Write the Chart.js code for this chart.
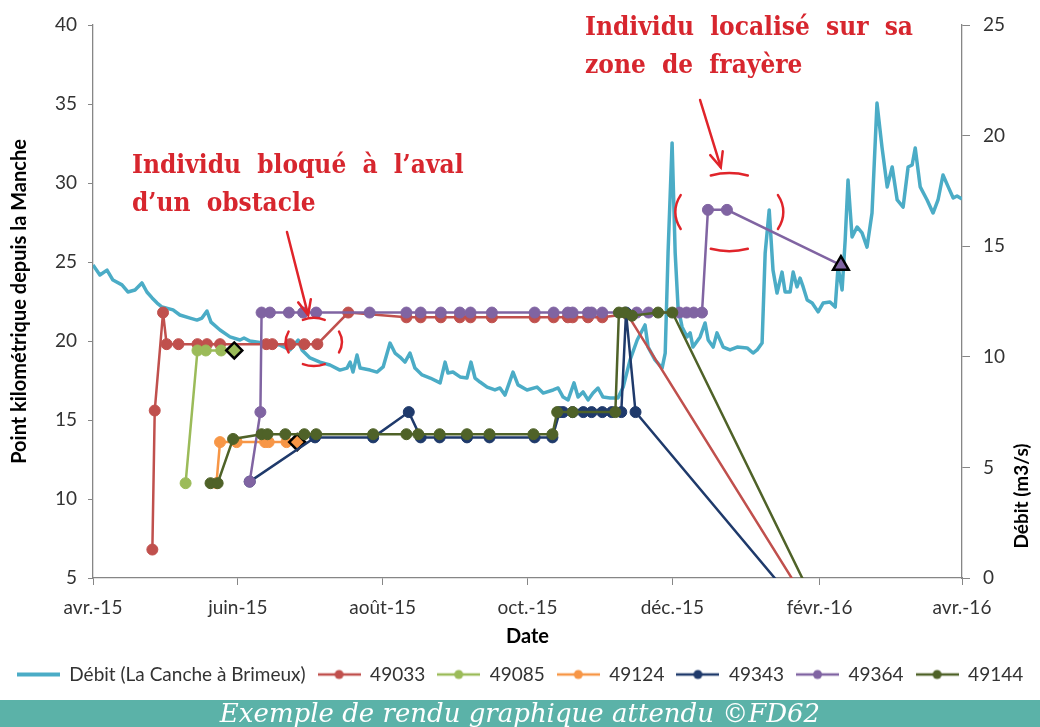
<!DOCTYPE html>
<html lang="fr">
<head>
<meta charset="utf-8">
<title>Suivi des individus - La Canche</title>
<script src="https://cdn.jsdelivr.net/npm/chart.js@4.4.1/dist/chart.umd.min.js"></script>
<style>
  html, body { margin: 0; padding: 0; background: #fff; }
  #page { position: relative; width: 1040px; height: 727px; overflow: hidden; }
  #zone { position: absolute; left: 0; top: 0; width: 1040px; height: 700px; }
  .note {
    position: absolute; color: #d7262e;
    font-family: 'DejaVu Serif Condensed', 'DejaVu Serif', serif; font-stretch: condensed;
    font-weight: bold; font-size: 26px; line-height: 38px; word-spacing: 8px; white-space: nowrap;
  }
  #bandeau {
    position: absolute; left: 0; top: 700px; width: 1040px; height: 27px;
    background: #5bb2a8; color: #fff; font-family: 'DejaVu Serif', serif; font-style: italic;
    font-size: 26px; line-height: 27px; text-align: center;
  }
</style>
</head>
<body>
<div id="page">
  <div id="zone"><canvas id="graphique" width="1040" height="700"></canvas></div>
  <div class="note" style="left:132px; top:145px;">Individu bloqué à l’aval<br>d’un obstacle</div>
  <div class="note" style="left:585px; top:7px;">Individu localisé sur sa<br>zone de frayère</div>
  <div id="bandeau">Exemple de rendu graphique attendu ©FD62</div>
</div>
<script>
// jours comptés depuis le 1er avril 2015
const tickJours = [0, 61, 122, 183, 244, 306, 366];
const tickLabels = ['avr.-15', 'juin-15', 'août-15', 'oct.-15', 'déc.-15', 'févr.-16', 'avr.-16'];

// Débit (La Canche à Brimeux), m3/s
const debitJours = [0, 2.9, 5.9, 8.4, 12.2, 14.7, 17.7, 20.6, 22.7, 24.9,
  27.0, 29.1, 33.7, 36.6, 40.9, 43.8, 45.9, 48.0, 49.7, 53.5,
  57.7, 61.9, 63.6, 66.1, 71.6, 78.8, 83.0, 86.4, 88.0, 91.4,
  95.6, 99.8, 104.0, 107.0, 108.3, 109.5, 111.2, 112.5, 116.7, 119.6,
  122.2, 125.1, 127.2, 129.3, 131.4, 133.5, 135.6, 138.6, 142.0, 146.2,
  148.3, 149.5, 151.6, 154.6, 157.5, 159.2, 160.9, 163.0, 166.0, 169.3,
  171.4, 173.5, 176.9, 179.0, 182.8, 187.0, 189.6, 193.8, 195.9, 198.0,
  200.1, 202.6, 204.3, 206.4, 208.5, 210.6, 212.7, 214.8, 217.8, 221.1,
  223.3, 226.2, 229.2, 232.5, 233.8, 236.7, 239.7, 241.0, 242.2, 243.9,
  245.2, 246.4, 248.1, 250.2, 251.5, 252.7, 255.7, 257.8, 259.1, 261.2,
  262.8, 265.4, 268.3, 271.3, 275.5, 278.0, 279.7, 281.8, 283.1, 284.8,
  286.4, 288.1, 290.2, 291.5, 293.6, 294.9, 296.5, 297.8, 299.1, 300.8,
  302.9, 305.4, 307.5, 310.4, 312.6, 313.8, 315.5, 316.8, 318.0, 319.7,
  321.8, 323.9, 326.0, 328.1, 330.2, 332.3, 334.5, 336.6, 338.7, 341.2,
  343.3, 345.0, 346.3, 348.4, 351.3, 353.8, 355.9, 358.0, 360.2, 362.3,
  363.9, 366.0];
const debitValeurs = [14.15, 13.70, 13.92, 13.47, 13.25, 12.93, 13.02, 13.34, 12.93, 12.66,
  12.43, 12.25, 12.12, 11.89, 11.75, 11.66, 11.75, 12.07, 11.57, 11.21,
  10.90, 10.76, 10.85, 10.71, 10.62, 10.53, 10.31, 10.76, 10.31, 9.95,
  9.76, 9.63, 9.40, 9.49, 9.76, 9.31, 10.08, 9.49, 9.40, 9.31,
  9.54, 10.62, 10.17, 9.99, 9.76, 10.17, 9.49, 9.18, 9.04, 8.82,
  9.76, 9.27, 9.31, 9.09, 9.04, 9.76, 9.04, 8.86, 8.63, 8.50,
  8.59, 8.27, 9.31, 8.73, 8.50, 8.63, 8.36, 8.50, 8.59, 8.18,
  8.05, 8.82, 8.18, 8.41, 8.05, 8.36, 8.59, 8.18, 8.14, 8.14,
  8.63, 9.86, 10.76, 11.44, 10.44, 9.86, 9.49, 10.17, 14.69, 19.67,
  14.69, 12.25, 11.35, 10.90, 11.08, 10.44, 10.90, 11.53, 10.76, 10.44,
  11.08, 10.44, 10.31, 10.44, 10.40, 10.17, 10.31, 10.62, 14.69, 16.64,
  13.92, 12.88, 13.83, 12.93, 12.93, 13.83, 13.16, 13.56, 13.16, 12.57,
  12.43, 12.03, 12.43, 12.48, 12.25, 14.06, 13.02, 15.28, 17.99, 15.42,
  15.87, 15.60, 14.96, 16.50, 21.47, 19.48, 17.68, 18.58, 17.09, 16.77,
  18.58, 18.67, 19.44, 17.68, 17.09, 16.50, 17.09, 18.22, 17.68, 17.18,
  17.27, 17.13];

// individus : jour de détection et point kilométrique
const jours49033 = [25, 26, 29.5, 31, 36, 44, 48, 53.5, 73, 75.5, 83, 89, 94.5, 107.5,
  132, 138, 146.5, 154.5, 159, 168, 186, 194, 200, 202, 208.5, 214.5, 225, 315];
const km49033 = [6.8, 15.6, 21.8, 19.8, 19.8, 19.8, 19.8, 19.8, 19.8, 19.8, 19.8, 19.8, 19.8, 21.8,
  21.5, 21.5, 21.5, 21.5, 21.5, 21.5, 21.5, 21.5, 21.5, 21.5, 21.5, 21.5, 21.7, 0];

const jours49085 = [39, 44, 47.5, 54, 59.5];
const km49085 = [11.0, 19.4, 19.4, 19.4, 19.4];

const jours49124 = [52, 53.5, 60.5, 72.5, 74, 81.5, 86];
const km49124 = [11.0, 13.6, 13.6, 13.6, 13.6, 13.6, 13.6];

const jours49343 = [66, 93.5, 118, 133, 138, 146, 157.5, 167, 186, 193.5,
  196.5, 198, 202, 206.5, 210, 214.5, 218.5, 222.5, 224.5, 228.5, 315];
const km49343 = [11.1, 13.9, 13.9, 15.5, 13.9, 13.9, 13.9, 13.9, 13.9, 13.9,
  15.5, 15.5, 15.5, 15.5, 15.5, 15.5, 15.5, 15.5, 21.8, 15.5, 0];

const jours49364 = [66, 70.5, 71, 74.5, 82.5, 88.5, 94, 116.5, 132, 138, 146.5, 154.5, 159, 168,
  186, 194, 200, 202, 208.5, 210, 214.5, 229, 234, 247, 250, 253, 256.5, 259, 267, 315];
const km49364 = [11.1, 15.5, 21.8, 21.8, 21.8, 21.8, 21.8, 21.8, 21.8, 21.8, 21.8, 21.8, 21.8, 21.8,
  21.8, 21.8, 21.8, 21.8, 21.8, 21.8, 21.8, 21.8, 21.8, 21.8, 21.8, 21.8, 21.8, 28.3, 28.3, 24.8];

const jours49144 = [49.5, 52.5, 59, 71, 73.5, 81, 89, 94, 118, 132, 137, 146, 157.5, 167,
  185.5, 193.5, 195.5, 202, 220, 221.5, 224, 227, 238, 244, 315];
const km49144 = [11.0, 11.0, 13.8, 14.1, 14.1, 14.1, 14.1, 14.1, 14.1, 14.1, 14.1, 14.1, 14.1, 14.1,
  14.1, 14.1, 15.5, 15.5, 15.5, 21.8, 21.8, 21.6, 21.8, 21.8, 0];

const couleurs = ['#4bacc6', '#c0504d', '#9bbb59', '#f79646', '#1f3a6b', '#8064a2', '#4f6228'];

function serie(label, jours, km, couleur, dernier) {
  const n = jours.length;
  const special = i => dernier && i === n - 1;
  return {
    label: label,
    yAxisID: 'y',
    data: jours.map((j, i) => ({ x: j, y: km[i] })),
    borderColor: couleur,
    backgroundColor: couleur,
    borderWidth: 2.5,
    pointStyle: jours.map((_, i) => special(i) ? dernier : 'circle'),
    pointRadius: jours.map((_, i) => special(i) ? (dernier === 'triangle' ? 9 : 8) : 5.5),
    pointBorderColor: jours.map((_, i) => special(i) ? '#000' : couleur),
    pointBorderWidth: jours.map((_, i) => special(i) ? 2.5 : 1),
    pointBackgroundColor: couleur,
    tension: 0
  };
}

const datasets = [
  {
    label: 'Débit (La Canche à Brimeux)',
    yAxisID: 'y1',
    data: debitJours.map((j, i) => ({ x: j, y: debitValeurs[i] })),
    borderColor: couleurs[0],
    backgroundColor: couleurs[0],
    borderWidth: 3.5,
    borderJoinStyle: 'round',
    pointRadius: 0,
    tension: 0
  },
  serie('49033', jours49033, km49033, couleurs[1]),
  serie('49085', jours49085, km49085, couleurs[2], 'rectRot'),
  serie('49124', jours49124, km49124, couleurs[3], 'rectRot'),
  serie('49343', jours49343, km49343, couleurs[4]),
  serie('49364', jours49364, km49364, couleurs[5], 'triangle'),
  serie('49144', jours49144, km49144, couleurs[6])
];
// la dernière série est dessinée au-dessus, comme dans Excel
datasets.forEach((d, i) => { d.order = datasets.length - i; });

// petits symboles de légende : trait + rond
function icone(couleur, avecPoint, epaisseur) {
  const c = document.createElement('canvas');
  c.width = 43; c.height = 12;
  const g = c.getContext('2d');
  g.strokeStyle = couleur;
  g.lineWidth = epaisseur;
  g.beginPath(); g.moveTo(0, 6); g.lineTo(43, 6); g.stroke();
  if (avecPoint) {
    g.fillStyle = couleur;
    g.beginPath(); g.arc(21.5, 6, 4.5, 0, Math.PI * 2); g.fill();
  }
  return c;
}
const icones = couleurs.map((c, i) => icone(c, i > 0, i > 0 ? 2.5 : 4));

const axe = '#868686';
const texte = '#333333';

// flèches, parenthèses et titre de l'axe de droite
const annotations = {
  id: 'annotations',
  afterDraw(chart) {
    const { ctx, scales: { x, y } } = chart;
    ctx.save();
    ctx.fillStyle = '#000';
    ctx.font = 'bold 19px Lato';
    ctx.textAlign = 'center';
    ctx.textBaseline = 'middle';
    ctx.translate(1022, 496);
    ctx.rotate(-Math.PI / 2);
    ctx.fillText('Débit (m3/s)', 0, 0);
    ctx.restore();

    ctx.save();
    ctx.strokeStyle = '#e0242a';
    ctx.lineWidth = 2.5;
    ctx.lineCap = 'round';
    const cercle = (j, km, rx, ry, dv, dh) => {
      const cx = x.getPixelForValue(j), cy = y.getPixelForValue(km);
      [[Math.PI, dv], [0, dv], [-Math.PI / 2, dh], [Math.PI / 2, dh]].forEach(([a, d]) => {
        ctx.beginPath();
        ctx.ellipse(cx, cy, rx, ry, 0, a - d, a + d);
        ctx.stroke();
      });
    };
    const fleche = (j0, k0, j1, k1) => {
      const x0 = x.getPixelForValue(j0), y0 = y.getPixelForValue(k0);
      const x1 = x.getPixelForValue(j1), y1 = y.getPixelForValue(k1);
      const a = Math.atan2(y1 - y0, x1 - x0), L = 16, o = 0.42;
      ctx.beginPath(); ctx.moveTo(x0, y0); ctx.lineTo(x1, y1); ctx.stroke();
      ctx.beginPath();
      ctx.moveTo(x1 - L * Math.cos(a - o), y1 - L * Math.sin(a - o));
      ctx.lineTo(x1, y1);
      ctx.lineTo(x1 - L * Math.cos(a + o), y1 - L * Math.sin(a + o));
      ctx.stroke();
    };
    cercle(93, 19.94, 28, 24, 0.45, 0.4);
    cercle(268, 28.16, 54, 39, 0.45, 0.35);
    fleche(81.7, 26.9, 90.6, 21.65);
    fleche(255.7, 35.25, 264.4, 31.0);
    ctx.restore();
  }
};

new Chart(document.getElementById('graphique').getContext('2d'), {
  type: 'line',
  data: { datasets: datasets },
  options: {
    responsive: false,
    animation: false,
    devicePixelRatio: 1,
    layout: { padding: { top: 25, left: 0, right: 0, bottom: 6 } },
    scales: {
      x: {
        type: 'linear',
        min: 0,
        max: 366,
        afterBuildTicks: s => { s.ticks = tickJours.map(v => ({ value: v })); },
        afterFit: s => { s.height = 75; },
        ticks: {
          autoSkip: false,
          maxRotation: 0,
          padding: 11,
          color: texte,
          font: { family: 'Lato', size: 19 },
          callback: v => tickLabels[tickJours.indexOf(v)]
        },
        grid: { drawOnChartArea: false, tickLength: 7, color: axe },
        border: { display: true, color: axe, width: 1.3 },
        title: { display: true, text: 'Date', color: '#000', font: { family: 'Lato', size: 20, weight: 'bold' }, padding: { top: 0, bottom: 4 } }
      },
      y: {
        position: 'left',
        min: 5,
        max: 40,
        afterFit: s => { s.width = 93; },
        ticks: { stepSize: 5, padding: 11, color: texte, font: { family: 'Lato', size: 19 } },
        grid: { drawOnChartArea: false, tickLength: 5, color: axe },
        border: { display: true, color: axe, width: 1.3 },
        title: { display: true, text: 'Point kilométrique depuis la Manche', color: '#000', font: { family: 'Lato', size: 20, weight: 'bold' }, padding: { top: 8, bottom: 0 } }
      },
      y1: {
        position: 'right',
        min: 0,
        max: 25,
        afterFit: s => { s.width = 78; },
        ticks: { stepSize: 5, padding: 13, color: texte, font: { family: 'Lato', size: 19 } },
        grid: { drawOnChartArea: false, tickLength: 8, color: axe },
        border: { display: true, color: axe, width: 1.3 }
      }
    },
    plugins: {
      tooltip: { enabled: false },
      legend: {
        position: 'bottom',
        labels: {
          usePointStyle: true,
          pointStyleWidth: 43,
          boxHeight: 12,
          padding: 12,
          color: texte,
          font: { family: 'Lato', size: 19 },
          generateLabels: chart => chart.data.datasets.map((d, i) => ({
            text: d.label,
            pointStyle: icones[i],
            fillStyle: d.borderColor,
            strokeStyle: d.borderColor,
            lineWidth: 0,
            hidden: false,
            datasetIndex: i,
            fontColor: texte
          }))
        }
      }
    }
  },
  plugins: [annotations]
});
</script>
</body>
</html>
